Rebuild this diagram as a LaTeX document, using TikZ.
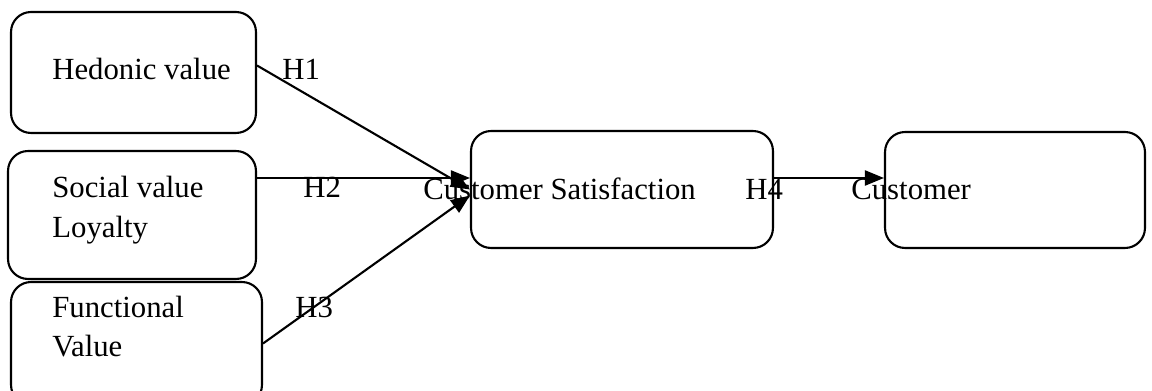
\documentclass[tikz,border=0pt]{standalone}
\usepackage{fontspec}
\setmainfont{Liberation Serif}
\usetikzlibrary{arrows.meta,calc,positioning}

\begin{document}
\begin{tikzpicture}[x=0.02cm, y=-0.02cm,
  box/.style={draw, rounded corners=0.4cm, line width=1.2pt, inner sep=0pt},
  lbl/.style={anchor=base west, inner sep=0pt, font=\fontsize{17.5}{21}\selectfont},
  conn/.style={-{Triangle[length=0.38cm, width=0.3cm]}, line width=1.2pt}]

\useasboundingbox (0,0) rectangle (1152,391);

% Boxes
\node[box, minimum width=4.9cm,  minimum height=2.42cm] (hed) at (133.5,72.5) {};
\node[box, minimum width=4.96cm, minimum height=2.56cm] (soc) at (132,215) {};
\node[box, minimum width=5.02cm, minimum height=2.46cm] (fun) at (136.5,343.5) {};
\node[box, minimum width=6.04cm, minimum height=2.34cm] (sat) at (622,189.5) {};
\node[box, minimum width=5.2cm,  minimum height=2.32cm] (cus) at (1015,190) {};

% Texts
\node[lbl] (hedt)  at (52,80)   {Hedonic value};
\node[lbl] (soct)  at (52,198)  {Social value};
\node[lbl] (loyt)  at (52,238)  {Loyalty};
\node[lbl] (funt)  at (52,317)  {Functional};
\node[lbl] (valt)  at (52,357)  {Value};
\node[lbl] (satt)  at (423,200) {Customer Satisfaction};
\node[lbl] (cust)  at (851,200) {Customer};

% Hypotheses
\node[lbl] (h1) at (282,80)  {H1};
\node[lbl] (h2) at (303,198) {H2};
\node[lbl] (h3) at (295,317) {H3};
\node[lbl] (h4) at (745,200) {H4};

% Paths
\draw[conn] ($(hed.east)+(0,-7)$) -- (sat.west);
\draw[conn] ($(soc.east)+(0,-37)$) -- ($(sat.west)+(0,-11.5)$);
\draw[conn] (fun.east) -- ($(sat.west)+(0,6)$);
\draw[conn] ($(sat.east)+(0,-11.5)$) -- ($(cus.west)+(0,-12)$);

\end{tikzpicture}
\end{document}
